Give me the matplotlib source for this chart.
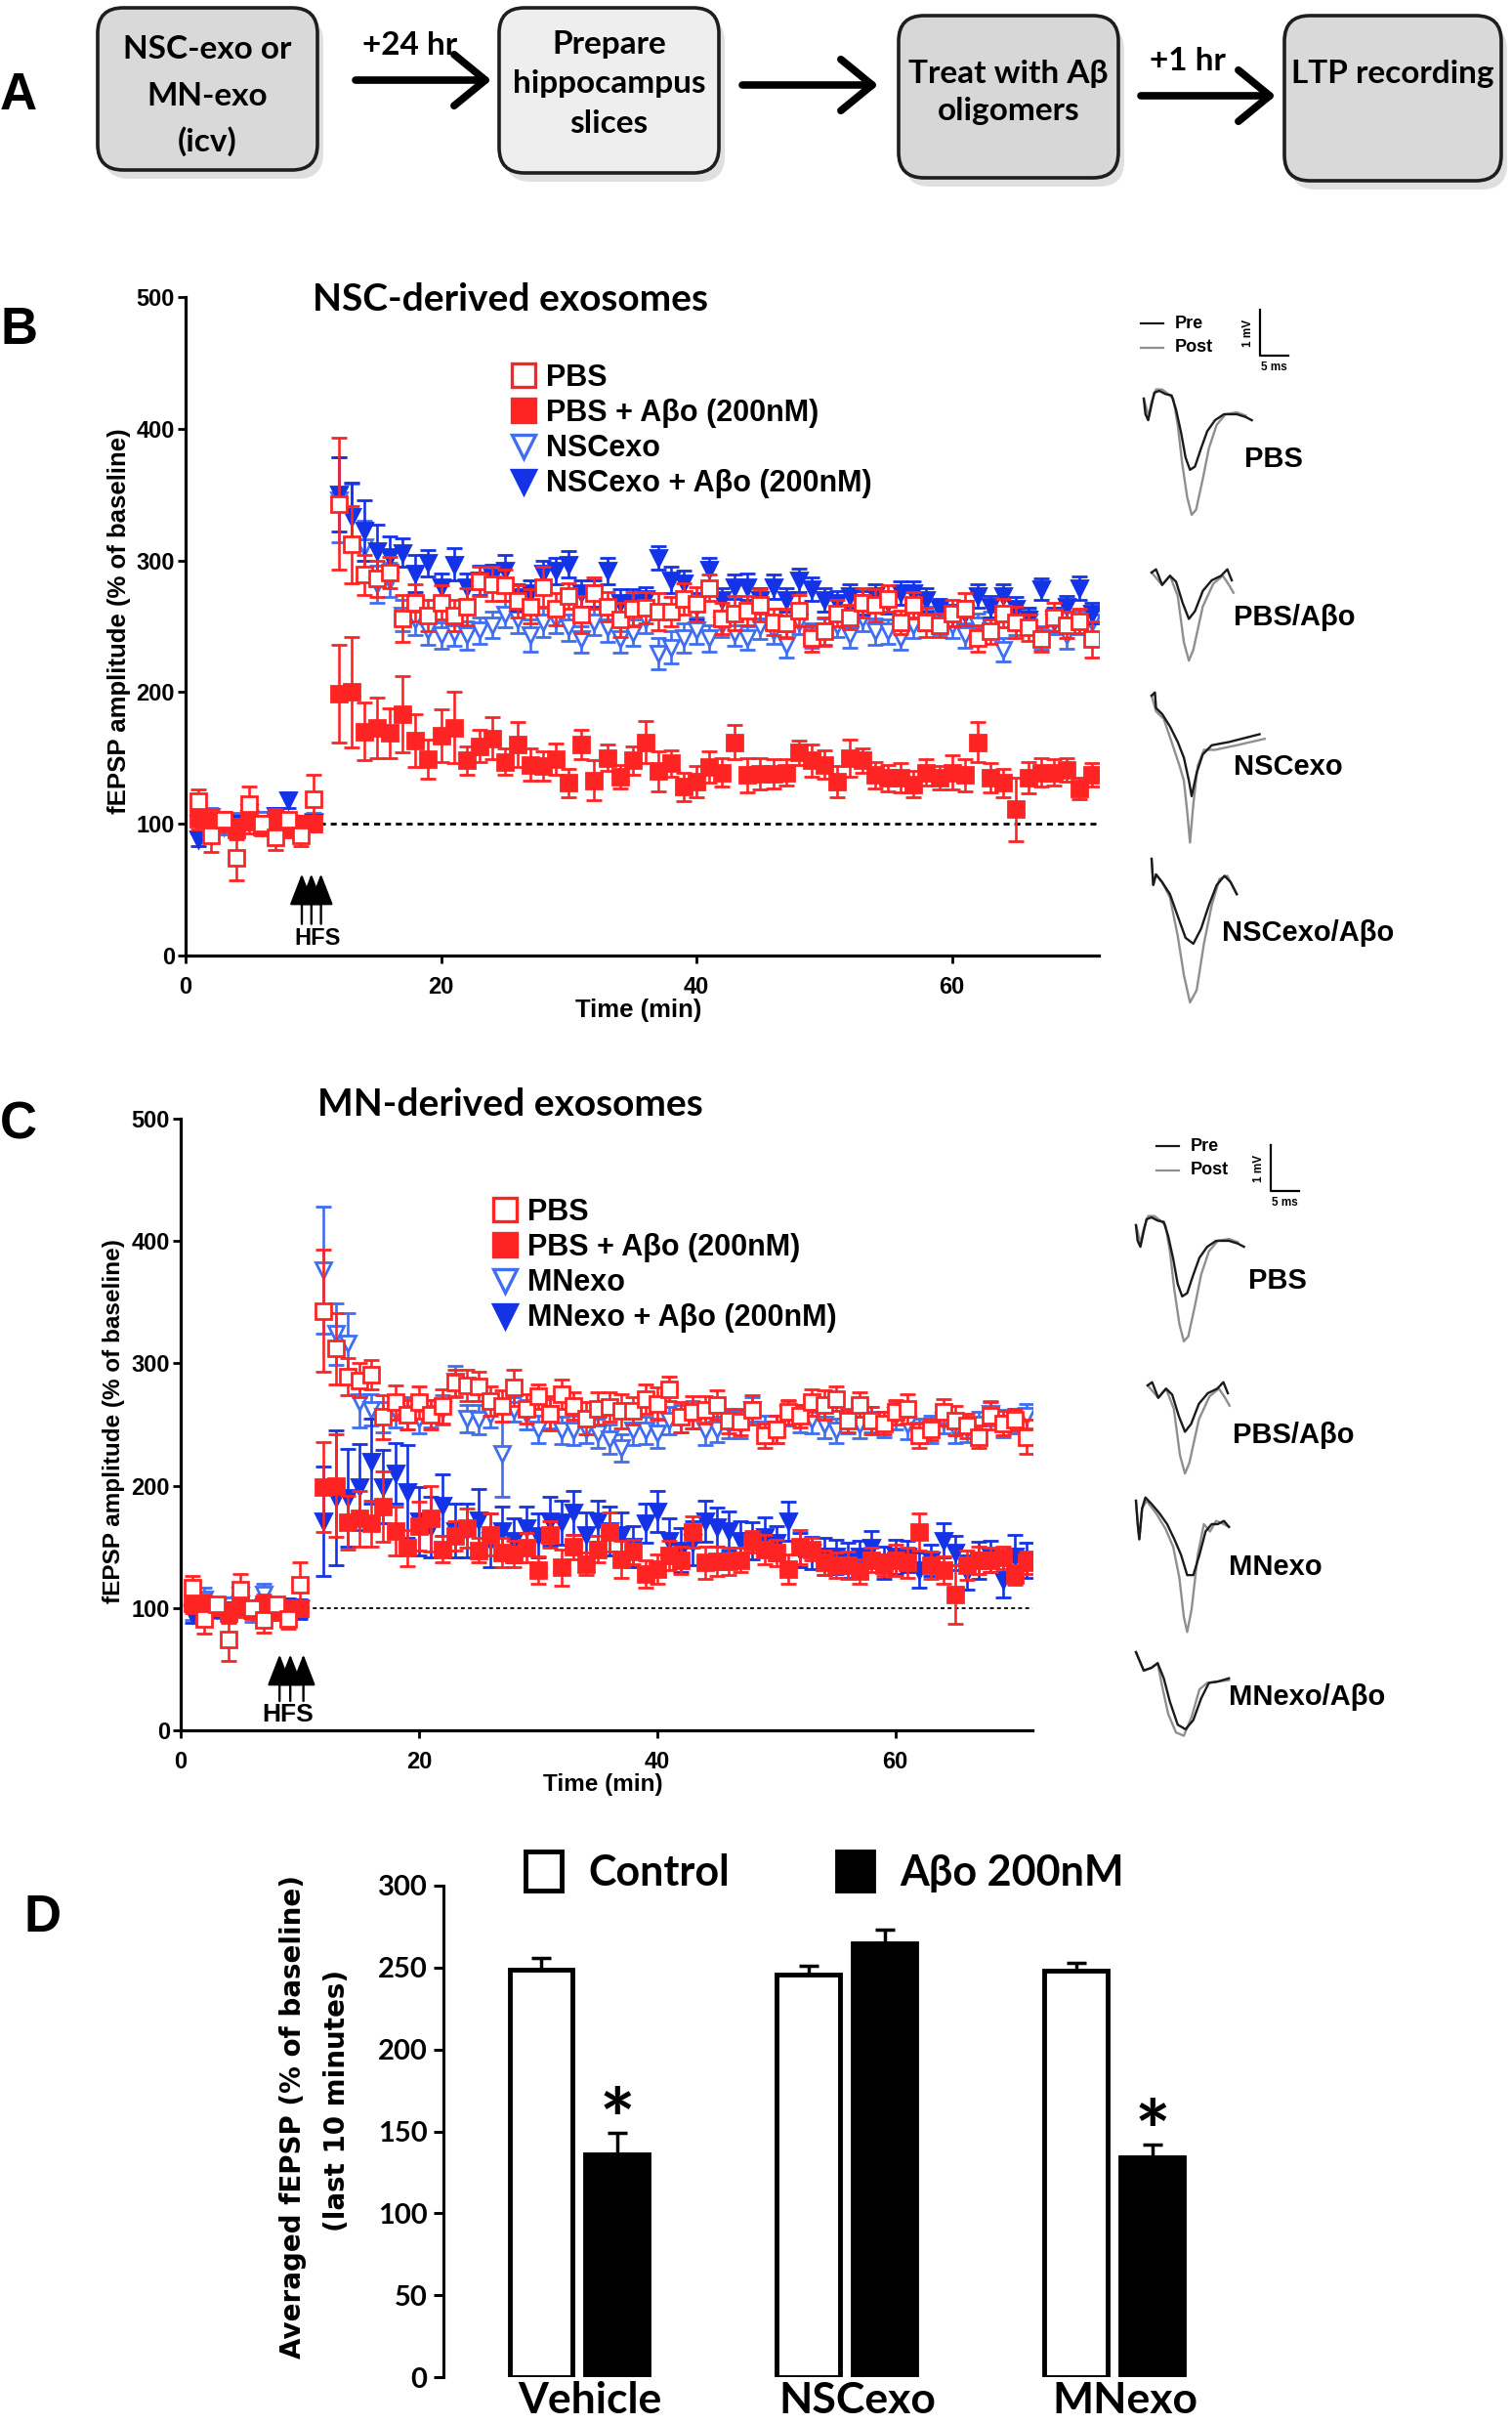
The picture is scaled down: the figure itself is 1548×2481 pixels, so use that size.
import numpy as np
import matplotlib
matplotlib.use("Agg")
import matplotlib.pyplot as plt
from matplotlib.patches import FancyBboxPatch, Patch
from matplotlib.lines import Line2D

# ------------------------------------------------------------------ data
time_min = list(range(1, 11)) + list(range(12, 72))

pbs = [117, 91, 103, 74, 115, 100, 90, 103, 91, 119,
       343, 312, 289, 286, 291, 256, 268, 258, 268, 258, 265, 284, 282, 281, 269, 265, 280,
       263, 273, 259, 275, 265, 255, 263, 264, 261, 261,
       271, 267, 279, 256, 260, 262, 266, 253, 252, 262, 241, 246, 260, 257, 268, 266, 271,
       253, 266, 253, 251, 260, 263, 241, 246, 260, 253, 249, 240, 257, 251, 254, 240]
pbs_err = [9, 12, 6, 17, 13, 6, 10, 5, 8, 18,
           50, 29, 15, 14, 12, 18, 14, 12, 13, 12, 14, 11, 13, 12, 12, 13, 15, 12, 10, 14,
           12, 11, 13, 13, 12, 14, 11, 12, 13, 10, 12, 13, 11, 12, 10, 11, 12, 10, 11, 10,
           9, 11, 12, 10, 9, 10, 11, 9, 10, 12, 10, 9, 11, 12, 10, 9, 11, 10, 9, 14]

pbs_abo = [104, 103, 101, 96, 102, 98, 103, 97, 100, 100,
           199, 200, 170, 173, 169, 183, 163, 149, 167, 173, 148, 159, 165, 147, 160, 145, 144,
           149, 131, 160, 133, 150, 136, 148, 162, 140, 146,
           128, 132, 143, 139, 162, 137, 138, 138, 139, 154, 148, 145, 132, 150, 148, 137, 135,
           135, 130, 139, 135, 139, 137, 162, 135, 131, 111, 135, 139, 139, 141, 127, 137]
pbs_abo_err = [8, 8, 7, 8, 9, 7, 8, 7, 6, 6,
               37, 42, 22, 23, 19, 29, 20, 15, 20, 27, 11, 12, 16, 10, 17, 12, 11, 12, 11, 11,
               15, 10, 9, 11, 16, 15, 10, 11, 12, 12, 11, 13, 13, 12, 11, 10, 9, 12, 11, 12,
               14, 9, 10, 10, 11, 10, 10, 9, 13, 12, 15, 11, 11, 24, 12, 11, 10, 9, 8, 9]

nsc = [100, 105, 98, 102, 108, 103, 99, 101, 100, 102,
       346, 333, 310, 282, 285, 258, 255, 247, 243, 245, 243, 247, 251, 259, 255, 243, 253,
       255, 249, 240, 253, 249, 240, 245, 255, 229, 234,
       241, 247, 241, 251, 245, 241, 250, 246, 236, 253, 243, 246, 251, 243, 256, 246, 246,
       241, 251, 256, 253, 251, 243, 251, 251, 232, 253, 253, 241, 253, 243, 253, 253]
nsc_err = [6, 7, 6, 6, 8, 6, 7, 6, 5, 6,
           32, 25, 20, 14, 13, 12, 12, 11, 10, 10, 11, 10, 10, 10, 10, 12, 11, 10, 10, 10,
           10, 11, 10, 10, 10, 12, 12, 11, 10, 10, 9, 10, 9, 10, 9, 10, 9, 9, 10, 9,
           9, 10, 10, 9, 9, 10, 9, 9, 10, 9, 9, 10, 9, 10, 9, 9, 9, 10, 9, 9]

nsc_abo = [88, 98, 101, 100, 104, 98, 106, 118, 100, 101,
           350, 333, 323, 307, 303, 306, 290, 298, 280, 297, 280, 285, 287, 292, 272, 275, 290,
           292, 297, 275, 275, 292, 268, 268, 271, 302, 285,
           283, 265, 293, 270, 280, 280, 270, 280, 270, 285, 278, 270, 268, 273, 268, 273, 268,
           275, 275, 270, 263, 258, 260, 273, 265, 273, 263, 255, 278, 255, 265, 279, 260]
nsc_abo_err = [5, 6, 5, 6, 6, 5, 6, 6, 5, 5,
               28, 26, 23, 20, 15, 11, 14, 10, 10, 12, 10, 11, 10, 12, 10, 10, 10, 10, 10, 10,
               10, 10, 10, 10, 9, 9, 10, 9, 10, 9, 9, 9, 10, 9, 9, 9, 9, 9, 9, 9,
               9, 9, 9, 8, 9, 9, 9, 8, 8, 9, 9, 8, 9, 9, 9, 8, 9, 8, 9, 8]

mn = [97, 107, 99, 102, 110, 96, 111, 100, 98, 100,
      376, 324, 316, 268, 262, 256, 260, 259, 255, 259, 262, 285, 255, 254, 258, 226, 262,
      258, 246, 259, 245, 245, 246, 243, 238, 231,
      245, 245, 243, 253, 255, 258, 245, 246, 250, 250, 262, 246, 246, 259, 255, 254, 250,
      245, 253, 250, 254, 250, 257, 250, 245, 246, 253, 246, 246, 250, 259, 251, 253, 257]
mn_err = [7, 10, 7, 7, 9, 7, 9, 6, 6, 7,
          52, 25, 25, 20, 13, 12, 12, 13, 12, 11, 12, 13, 11, 12, 10, 35, 10, 12, 11, 12,
          11, 12, 11, 12, 12, 11, 12, 11, 12, 11, 11, 11, 12, 10, 11, 11, 10, 11, 11, 10,
          11, 11, 11, 10, 10, 11, 10, 10, 11, 12, 10, 11, 10, 11, 10, 10, 10, 11, 10, 10]

mn_abo = [95, 98, 100, 97, 103, 99, 101, 98, 100, 99,
          171, 190, 190, 199, 220, 199, 210, 195, 171, 166, 184, 163, 163, 172, 155, 163, 155,
          165, 159, 171, 170, 178, 160, 171, 163, 160,
          150, 169, 179, 155, 147, 153, 171, 166, 163, 155, 155, 158, 153, 171, 147, 145, 142,
          142, 139, 142, 149, 137, 142, 142, 131, 139, 155, 145, 129, 139, 142, 123, 142, 139]
mn_abo_err = [7, 8, 7, 8, 8, 7, 8, 7, 8, 8,
              45, 55, 40, 35, 35, 30, 25, 38, 28, 25, 25, 22, 22, 25, 22, 20, 18, 18, 18, 20,
              18, 18, 18, 17, 20, 18, 17, 16, 17, 18, 18, 18, 17, 16, 16, 16, 15, 16, 14, 16,
              14, 13, 15, 14, 14, 13, 14, 13, 14, 13, 14, 13, 14, 14, 14, 15, 13, 14, 18, 14]

# panel D
groups = ['Vehicle', 'NSCexo', 'MNexo']
ctrl_mean = [249, 246, 248]
ctrl_err = [7, 5, 5]
abo_mean = [136, 265, 134]
abo_err = [13, 8, 8]
sig_abo = [True, False, True]

# representative traces (ms, mV relative to trace start)
tr_pbs_pre_t = [0, 0.3, 0.8, 1.4, 1.9, 2.8, 3.9, 5.0, 5.8, 6.7, 7.5, 8.3, 9.2, 10.3, 11.4, 12.8, 14.4, 16.7, 18.3, 19.4]
tr_pbs_pre_v = [0, -0.34, -0.47, -0.13, 0.13, 0.17, 0.10, 0.07, -0.24, -0.74, -1.28, -1.55, -1.48, -1.08, -0.71, -0.47, -0.34, -0.34, -0.40, -0.47]
tr_pbs_post_t = [0, 0.3, 0.8, 1.4, 2.2, 3.3, 4.4, 5.3, 6.1, 6.9, 7.8, 8.6, 9.4, 10.6, 11.7, 13.1, 14.7, 16.7, 18.3]
tr_pbs_post_v = [0, -0.13, -0.40, -0.07, 0.20, 0.20, 0.10, 0.00, -0.57, -1.41, -2.15, -2.53, -2.42, -1.75, -1.08, -0.57, -0.34, -0.30, -0.37]

tr_pbsabo_pre_t = [0, 0.8, 1.9, 3.3, 4.4, 5.6, 6.7, 7.8, 9.2, 10.8, 12.5, 13.6, 14.4]
tr_pbsabo_pre_v = [0, 0.07, -0.27, -0.07, -0.20, -0.67, -1.01, -0.84, -0.40, -0.17, -0.07, 0.07, -0.17]
tr_pbsabo_post_t = [0, 1.9, 3.3, 4.7, 5.8, 6.7, 7.5, 9.2, 11.1, 12.8, 13.9, 14.7]
tr_pbsabo_post_v = [0, -0.27, -0.07, -0.51, -1.52, -1.92, -1.68, -0.74, -0.24, -0.07, -0.27, -0.44]

tr_nsc_pre_t = [0, 0.6, 0.8, 1.9, 3.3, 4.7, 5.8, 6.7, 7.2, 8.1, 9.2, 10.8, 13.9, 19.4]
tr_nsc_pre_v = [0, 0.07, -0.27, -0.40, -0.67, -1.01, -1.35, -1.85, -2.19, -1.68, -1.28, -1.08, -1.01, -0.84]
tr_nsc_post_t = [0, 0.8, 2.2, 3.6, 5.0, 5.8, 6.4, 6.9, 7.5, 8.3, 9.4, 11.4, 15.3, 20.3]
tr_nsc_post_v = [0, -0.34, -0.51, -1.01, -1.52, -1.85, -2.53, -3.20, -2.36, -1.52, -1.18, -1.18, -1.08, -0.94]

tr_nscabo_pre_t = [0, 0.3, 0.8, 1.9, 3.3, 4.7, 6.1, 7.5, 8.9, 10.3, 11.7, 13.1, 14.2, 15.3]
tr_nscabo_pre_v = [0, -0.57, -0.34, -0.51, -0.77, -1.25, -1.72, -1.85, -1.52, -1.01, -0.57, -0.37, -0.51, -0.77]
tr_nscabo_post_t = [0, 0.3, 0.8, 1.9, 3.3, 4.7, 5.8, 6.9, 8.1, 9.4, 10.8, 12.2, 13.6, 15.3]
tr_nscabo_post_v = [0, -0.57, -0.34, -0.51, -0.84, -1.68, -2.53, -3.13, -2.86, -1.85, -1.01, -0.44, -0.37, -0.77]

tr_mn_pre_t = [0, 0.3, 0.6, 1.1, 1.7, 2.8, 4.2, 5.6, 6.9, 8.1, 9.2, 10.3, 11.4, 12.5, 13.6, 14.7, 15.8, 16.7]
tr_mn_pre_v = [0, -0.51, -0.84, -0.17, 0.07, -0.07, -0.27, -0.51, -0.84, -1.18, -1.62, -1.62, -1.18, -0.67, -0.51, -0.51, -0.44, -0.57]
tr_mn_post_t = [0, 0.6, 1.1, 1.9, 3.6, 5.3, 6.7, 7.8, 8.6, 9.2, 10.0, 11.1, 12.2, 13.3, 14.4, 15.8, 16.7]
tr_mn_post_v = [0, -0.84, -0.17, 0, -0.27, -0.61, -1.01, -1.68, -2.53, -2.86, -2.36, -1.18, -0.51, -0.67, -0.44, -0.51, -0.57]

tr_mnabo_pre_t = [0, 1.4, 2.8, 3.9, 5.0, 6.1, 7.5, 8.9, 10.3, 11.7, 13.1, 14.7, 16.7]
tr_mnabo_pre_v = [0, -0.40, -0.34, -0.24, -0.57, -1.08, -1.58, -1.68, -1.48, -1.01, -0.67, -0.64, -0.57]
tr_mnabo_post_t = [0, 1.4, 2.8, 3.9, 4.7, 5.8, 7.2, 8.6, 10.0, 11.4, 12.8, 14.7, 16.7]
tr_mnabo_post_v = [0, -0.40, -0.34, -0.24, -0.74, -1.35, -1.75, -1.82, -1.41, -0.81, -0.67, -0.64, -0.61]

# ------------------------------------------------------------------ style
W, H = 1548, 2481
LATO = ['Lato', 'DejaVu Sans']
ARIAL = ['Liberation Sans', 'DejaVu Sans']
RED = '#ff2424'
BLUE_OPEN = '#3f6ef0'
BLUE_FILL = '#1432e6'
PRE_C = '#1a1a1a'
POST_C = '#8f8f8f'

fig = plt.figure(figsize=(W / 100, H / 100), dpi=100)


def fpos(left, top, right, bottom):
    return [left / W, 1 - bottom / H, (right - left) / W, (bottom - top) / H]


def ltp_panel(rect, series, hfs_x, hfs_text_x, hfs_size, dash_lw, ms=11.5):
    ax = fig.add_axes(rect)
    ax.patch.set_alpha(0)
    for vals, errs, mk, col, face, lab, z in series:
        ax.errorbar(time_min, vals, yerr=errs, fmt=mk, ms=ms, mec=col, mfc=face,
                    mew=2.0, ecolor=col, elinewidth=1.9, capsize=6, capthick=1.9,
                    zorder=z, label=lab)
    ax.hlines(100, 10.5, 71.5, colors='k', linestyles=(0, (2.2, 1.8)), lw=dash_lw, zorder=1)
    for hx in hfs_x:
        ax.annotate('', xy=(hx, 62), xytext=(hx, 24),
                    arrowprops=dict(arrowstyle='-|>,head_length=0.9,head_width=0.35',
                                    lw=1.7, color='k', shrinkA=0, shrinkB=0,
                                    mutation_scale=22))
    ax.text(hfs_text_x, 13, 'HFS', ha='center', va='center', fontsize=hfs_size,
            fontweight='bold', family=ARIAL)
    ax.set_xlim(0, 71.5)
    ax.set_ylim(0, 500)
    ax.set_xticks([0, 20, 40, 60])
    ax.set_yticks([0, 100, 200, 300, 400, 500])
    for s in ['top', 'right']:
        ax.spines[s].set_visible(False)
    for s in ['left', 'bottom']:
        ax.spines[s].set_linewidth(2.3)
    ax.tick_params(direction='out', length=6, width=2.0, labelsize=17, pad=2)
    ax.tick_params(axis='x', pad=9)
    for lab in ax.get_xticklabels() + ax.get_yticklabels():
        lab.set_fontweight('bold')
        lab.set_family(ARIAL)
    return ax


# ---------------- Panel B
seriesB = [
    (nsc, nsc_err, 'v', BLUE_OPEN, 'white', 'NSCexo', 3),
    (nsc_abo, nsc_abo_err, 'v', BLUE_FILL, BLUE_FILL, 'NSCexo + A\u03b2o (200nM)', 4),
    (pbs_abo, pbs_abo_err, 's', RED, RED, 'PBS + A\u03b2o (200nM)', 5),
    (pbs, pbs_err, 's', RED, 'white', 'PBS', 6),
]
axB = ltp_panel(fpos(190, 304, 1125, 978), seriesB, [9.1, 9.85, 10.6], 10.3, 17, 2.0)

# ---------------- Panel C
seriesC = [
    (mn, mn_err, 'v', BLUE_OPEN, 'white', 'MNexo', 3),
    (mn_abo, mn_abo_err, 'v', BLUE_FILL, BLUE_FILL, 'MNexo + A\u03b2o (200nM)', 4),
    (pbs_abo, pbs_abo_err, 's', RED, RED, 'PBS + A\u03b2o (200nM)', 5),
    (pbs, pbs_err, 's', RED, 'white', 'PBS', 6),
]
axC = ltp_panel(fpos(185, 1145, 1057, 1771), seriesC, [8.3, 9.2, 10.3], 9.0, 19, 1.3, ms=11)


def make_legend(ax, series, anchor_px):
    order = [3, 2, 0, 1]
    handles = []
    labels = []
    for i in order:
        vals, errs, mk, col, face, lab, z = series[i]
        handles.append(Line2D([], [], ls='none', marker=mk, ms=17, mec=col, mfc=face, mew=2.4))
        labels.append(lab)
    leg = ax.legend(handles, labels, loc='upper left',
                    bbox_to_anchor=(anchor_px[0] / W, 1 - anchor_px[1] / H),
                    bbox_transform=fig.transFigure, frameon=False, borderpad=0,
                    borderaxespad=0, handlelength=0.9, handletextpad=0.3,
                    labelspacing=0.2, prop=dict(family=ARIAL, weight='bold', size=22))
    return leg


make_legend(axB, seriesB, (522, 372))
make_legend(axC, seriesC, (503, 1226))

# ---------------- traces
PX_MS = 5.7
PX_MV = 47.0


def trace_ax(x0, y0, pre, post):
    xl = (-0.5, 21.5)
    yl = (-3.6, 0.6)
    left = x0 + xl[0] * PX_MS
    right = x0 + xl[1] * PX_MS
    top = y0 - yl[1] * PX_MV
    bottom = y0 - yl[0] * PX_MV
    ax = fig.add_axes(fpos(left, top, right, bottom))
    ax.set_xlim(*xl)
    ax.set_ylim(*yl)
    ax.axis('off')
    ax.patch.set_visible(False)
    ax.plot(post[0], post[1], color=POST_C, lw=1.7, solid_joinstyle='round')
    ax.plot(pre[0], pre[1], color=PRE_C, lw=1.7, solid_joinstyle='round')
    return ax


trB = [
    ((1171, 408), (tr_pbs_pre_t, tr_pbs_pre_v), (tr_pbs_post_t, tr_pbs_post_v)),
    ((1179, 586), (tr_pbsabo_pre_t, tr_pbsabo_pre_v), (tr_pbsabo_post_t, tr_pbsabo_post_v)),
    ((1179, 712), (tr_nsc_pre_t, tr_nsc_pre_v), (tr_nsc_post_t, tr_nsc_post_v)),
    ((1179, 879), (tr_nscabo_pre_t, tr_nscabo_pre_v), (tr_nscabo_post_t, tr_nscabo_post_v)),
]
trC = [
    ((1163, 1254), (tr_pbs_pre_t, tr_pbs_pre_v), (tr_pbs_post_t, tr_pbs_post_v)),
    ((1175, 1418), (tr_pbsabo_pre_t, tr_pbsabo_pre_v), (tr_pbsabo_post_t, tr_pbsabo_post_v)),
    ((1163, 1536), (tr_mn_pre_t, tr_mn_pre_v), (tr_mn_post_t, tr_mn_post_v)),
    ((1163, 1691), (tr_mnabo_pre_t, tr_mnabo_pre_v), (tr_mnabo_post_t, tr_mnabo_post_v)),
]
for pos, pre, post in trB + trC:
    trace_ax(pos[0], pos[1], pre, post)

# ---------------- Panel D
axD = fig.add_axes(fpos(454, 1930, 1305, 2433))
axD.patch.set_alpha(0)
xg = np.arange(len(groups))
bw = 0.237
off = 0.142
zeros = [0] * len(groups)
axD.bar(xg - off, ctrl_mean, width=bw, color='white', edgecolor='black', lw=3.5,
        yerr=[zeros, ctrl_err], error_kw=dict(capsize=7, elinewidth=2.5, capthick=2.5, ecolor='k'))
axD.bar(xg + off, abo_mean, width=bw, color='black', edgecolor='black', lw=3.5,
        yerr=[zeros, abo_err], error_kw=dict(capsize=7, elinewidth=2.5, capthick=2.5, ecolor='k'))
for i, s in enumerate(sig_abo):
    if s:
        axD.text(xg[i] + off, abo_mean[i] + abo_err[i] - 10, '*', ha='center', va='baseline',
                 fontsize=62, fontweight='bold', family=LATO)
axD.set_xlim(-0.507, 2.6)
axD.set_ylim(0, 300)
axD.set_yticks([0, 50, 100, 150, 200, 250, 300])
axD.set_xticks(xg + 0.04)
axD.set_xticklabels(groups)
for s in ['top', 'right', 'bottom']:
    axD.spines[s].set_visible(False)
axD.spines['left'].set_linewidth(2.2)
axD.tick_params(axis='y', direction='out', length=7, width=2.2, labelsize=21, pad=5)
axD.tick_params(axis='x', length=0, labelsize=32, pad=3)
for lab in axD.get_xticklabels() + axD.get_yticklabels():
    lab.set_fontweight('bold')
    lab.set_family(LATO)
axD.legend([Patch(facecolor='white', edgecolor='black', lw=3.5),
            Patch(facecolor='black', edgecolor='black', lw=3.5)],
           ['Control', 'A\u03b2o 200nM'], ncol=2, loc='upper left',
           bbox_to_anchor=(538 / W, 1 - 1895 / H), bbox_transform=fig.transFigure,
           frameon=False, borderpad=0, borderaxespad=0, handlelength=0.85,
           handleheight=1.05, handletextpad=0.65, columnspacing=2.55,
           prop=dict(family=LATO, weight='bold', size=31))

# ---------------- overlay (panel A, labels, titles)
ov = fig.add_axes([0, 0, 1, 1], zorder=10)
ov.set_xlim(0, W)
ov.set_ylim(H, 0)
ov.axis('off')
ov.patch.set_visible(False)

boxes = [
    (100, 8, 225, 166, '#d9d9d9', ['NSC-exo or', 'MN-exo', '(icv)'], [50, 98, 145]),
    (511, 8, 225, 169, '#eeeeee', ['Prepare', 'hippocampus', 'slices'], [46, 86, 127]),
    (920, 16, 225, 166, '#d7d7d7', ['Treat with A\u03b2', 'oligomers'], [75, 114]),
    (1315, 16, 222, 169, '#d9d9d9', ['LTP recording'], [75]),
]
for x, y, w, h, fc, lines, ys in boxes:
    ov.add_patch(FancyBboxPatch((x + 6, y + 9), w, h, boxstyle='round,pad=0,rounding_size=26',
                                fc='#b8b8b8', ec='none', alpha=0.45))
    ov.add_patch(FancyBboxPatch((x, y), w, h, boxstyle='round,pad=0,rounding_size=26',
                                fc=fc, ec='#1e1e1e', lw=2.6))
    for t, yy in zip(lines, ys):
        ov.text(x + w / 2, yy, t, ha='center', va='center', fontsize=24,
                fontweight='bold', family=LATO)

for x1, x2, yy in [(364, 503, 82), (760, 899, 87), (1168, 1306, 98)]:
    ov.annotate('', xy=(x2, yy), xytext=(x1, yy),
                arrowprops=dict(arrowstyle='->,head_length=0.55,head_width=0.45', lw=5.5,
                                color='black', shrinkA=0, shrinkB=0, mutation_scale=42))
ov.text(420, 47, '+24 hr', ha='center', va='center', fontsize=24, fontweight='bold', family=LATO)
ov.text(1216, 63, '+1 hr', ha='center', va='center', fontsize=24, fontweight='bold', family=LATO)

for letter, x, y in [('A', 19, 98), ('B', 19, 338), ('C', 19, 1151), ('D', 44, 1963)]:
    ov.text(x, y, letter, ha='center', va='center', fontsize=38, fontweight='bold', family=ARIAL)

ov.text(522, 306, 'NSC-derived exosomes', ha='center', va='center', fontsize=28,
        fontweight='bold', family=LATO)
ov.text(522, 1130, 'MN-derived exosomes', ha='center', va='center', fontsize=28,
        fontweight='bold', family=LATO)

ov.text(122, 636, 'fEPSP amplitude (% of baseline)', rotation=90, ha='center', va='center',
        fontsize=18.5, fontweight='bold', family=ARIAL)
ov.text(117, 1455, 'fEPSP amplitude (% of baseline)', rotation=90, ha='center', va='center',
        fontsize=17.5, fontweight='bold', family=ARIAL)
ov.text(654, 1034, 'Time (min)', ha='center', va='center', fontsize=18.5,
        fontweight='bold', family=ARIAL)
ov.text(617, 1827, 'Time (min)', ha='center', va='center', fontsize=17.5,
        fontweight='bold', family=ARIAL)

ov.text(300, 2166, 'Averaged fEPSP (% of baseline)', rotation=90, ha='center', va='center',
        fontsize=20, fontweight='bold', family=['DejaVu Sans'])
ov.text(345, 2150, '(last 10 minutes)', rotation=90, ha='center', va='center',
        fontsize=20, fontweight='bold', family=['DejaVu Sans'])

# trace legends and scale bars
for (lx, ly1, ly2, tx, sbx, sby) in [(1168, 331, 356, 1203, 1290, 364),
                                     (1184, 1173, 1198, 1219, 1301, 1219)]:
    ov.plot([lx, lx + 23], [ly1, ly1], color=PRE_C, lw=1.6)
    ov.plot([lx, lx + 23], [ly2, ly2], color=POST_C, lw=1.6)
    ov.text(tx, ly1, 'Pre', ha='left', va='center', fontsize=13, fontweight='bold', family=ARIAL)
    ov.text(tx, ly2, 'Post', ha='left', va='center', fontsize=13, fontweight='bold', family=ARIAL)
    ov.plot([sbx, sbx, sbx + PX_MS * 5], [sby - PX_MV, sby, sby], color='k', lw=1.6)
    ov.text(sbx - 12, sby - PX_MV / 2, '1 mV', rotation=90, ha='center', va='center',
            fontsize=8.5, fontweight='bold', family=ARIAL)
    ov.text(sbx + PX_MS * 2.5, sby + 12, '5 ms', ha='center', va='center',
            fontsize=8.5, fontweight='bold', family=ARIAL)

for lab, x, y in [('PBS', 1274, 470), ('PBS/A\u03b2o', 1263, 632), ('NSCexo', 1263, 785),
                  ('NSCexo/A\u03b2o', 1251, 955), ('PBS', 1278, 1311),
                  ('PBS/A\u03b2o', 1262, 1469), ('MNexo', 1258, 1604),
                  ('MNexo/A\u03b2o', 1258, 1737)]:
    ov.text(x, y, lab, ha='left', va='center', fontsize=21, fontweight='bold', family=ARIAL)

fig.savefig('out.png', dpi=100)
